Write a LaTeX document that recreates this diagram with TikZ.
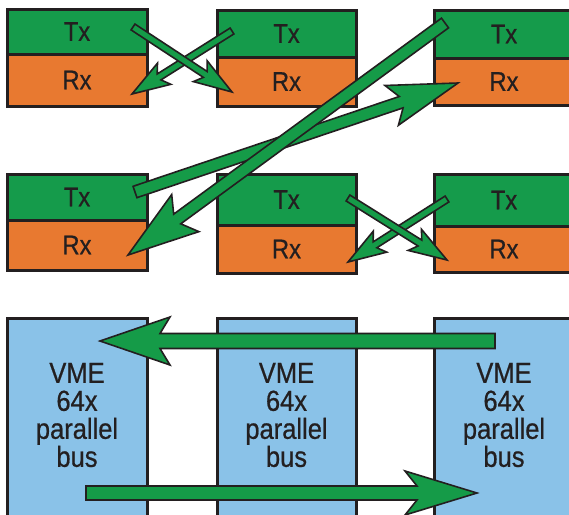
\documentclass[tikz,border=0pt]{standalone}
\usepackage{fontspec}
\setmainfont{Liberation Sans}[FakeStretch=0.88,FakeBold=0.6]
\usetikzlibrary{calc}
\definecolor{txgreen}{HTML}{159B4B}
\definecolor{rxorange}{HTML}{E87930}
\definecolor{vmeblue}{HTML}{8AC2E8}
\definecolor{outline}{HTML}{231F20}
\definecolor{arrowgreen}{HTML}{159B48}
% #1 start, #2 tip, #3 shaft half width, #4 tip-to-shaft-junction, #5 head length, #6 head half width
\newcommand{\fatarrow}[6]{%
  \filldraw[fatarrowstyle]
    ($(#1)!#3!90:(#2)$) --
    ($(#2)!#4!(#1)!#3!90:(#2)$) --
    ($(#2)!#5!(#1)!#6!90:(#2)$) --
    (#2) --
    ($(#2)!#5!(#1)!#6!-90:(#2)$) --
    ($(#2)!#4!(#1)!#3!-90:(#2)$) --
    ($(#1)!#3!-90:(#2)$) -- cycle;
}
\begin{document}
\begin{tikzpicture}[x=1pt,y=-1pt,
  unit/.style={draw=outline, line width=3pt, inner sep=0pt, outer sep=0pt,
    text=outline, font=\fontsize{27}{28}\selectfont},
  txbox/.style={unit, fill=txgreen},
  rxbox/.style={unit, fill=rxorange},
  vmebox/.style={unit, fill=vmeblue, minimum height=212pt},
  vmetext/.style={align=center, text=outline, inner sep=0pt,
    font=\fontsize{29}{28}\selectfont},
  fatarrowstyle/.style={fill=arrowgreen, draw=outline, line width=1.6pt, line join=miter}]
\useasboundingbox (0,0) rectangle (569,514);
\clip (0,0) rectangle (569,514);

% row 1
\node[txbox, minimum width=140pt, minimum height=45pt] (tx1) at (77,31.5) {Tx};
\node[rxbox, minimum width=140pt, minimum height=52pt] (rx1) at (77,80) {Rx};
\node[txbox, minimum width=139pt, minimum height=47pt] (tx2) at (286.5,33.5) {Tx};
\node[rxbox, minimum width=139pt, minimum height=49pt] (rx2) at (286.5,81.5) {Rx};
\node[txbox, minimum width=140pt, minimum height=48pt] (tx3) at (504,34) {Tx};
\node[rxbox, minimum width=140pt, minimum height=47pt] (rx3) at (504,81.5) {Rx};

% row 2
\node[txbox, minimum width=140pt, minimum height=46pt] (tx4) at (77,197) {Tx};
\node[rxbox, minimum width=140pt, minimum height=50pt] (rx4) at (77,245) {Rx};
\node[txbox, minimum width=139pt, minimum height=51pt] (tx5) at (286.5,199.5) {Tx};
\node[rxbox, minimum width=139pt, minimum height=48pt] (rx5) at (286.5,249) {Rx};
\node[txbox, minimum width=140pt, minimum height=52pt] (tx6) at (504,200) {Tx};
\node[rxbox, minimum width=140pt, minimum height=46pt] (rx6) at (504,249) {Rx};

% row 3
\node[vmebox, minimum width=140pt] (vme1) at (77,424) {};
\node[vmebox, minimum width=139pt] (vme2) at (286.5,424) {};
\node[vmebox, minimum width=140pt] (vme3) at (504,424) {};
\node[vmetext] (vt1) at ($(vme1.north)+(0,97)$) {VME\\64x\\parallel\\bus};
\node[vmetext] (vt2) at ($(vme2.north)+(0,97)$) {VME\\64x\\parallel\\bus};
\node[vmetext] (vt3) at ($(vme3.north)+(0,97)$) {VME\\64x\\parallel\\bus};

% arrow end points
\coordinate (aS) at ($(tx1.east)+(-14,-4.5)$);
\coordinate (aT) at ($(rx2.west)+(15,10.5)$);
\coordinate (bS) at ($(tx2.west)+(15,-2.5)$);
\coordinate (bT) at ($(rx1.east)+(-15,14)$);
\coordinate (cS) at ($(tx5.east)+(-8,-1.5)$);
\coordinate (cT) at ($(rx6.west)+(13,11)$);
\coordinate (dS) at ($(tx6.west)+(13,-1)$);
\coordinate (dT) at ($(rx5.east)+(-8,13)$);
\coordinate (eS) at ($(tx3.west)+(11,-11)$);
\coordinate (eT) at ($(rx4.east)+(-19,10)$);
\coordinate (fS) at ($(tx4.east)+(-12,-5)$);
\coordinate (fT) at ($(rx3.west)+(24,1.5)$);
\coordinate (gS) at ($(vme3.north)+(-9,23)$);
\coordinate (gT) at ($(vme1.north)+(23,23)$);
\coordinate (hS) at ($(vme1.north)+(9,175)$);
\coordinate (hT) at ($(vme3.north)+(-27,175)$);

% arrows
\fatarrow{bS}{bT}{3.5pt}{32pt}{38pt}{12.5pt}
\fatarrow{aS}{aT}{3.5pt}{32pt}{38pt}{12.5pt}
\fatarrow{dS}{dT}{3.5pt}{32pt}{38pt}{12.5pt}
\fatarrow{cS}{cT}{3.5pt}{32pt}{38pt}{12.5pt}
\fatarrow{fS}{fT}{6pt}{60pt}{70pt}{21pt}
\fatarrow{eS}{eT}{6pt}{61pt}{71pt}{23pt}
\fatarrow{gS}{gT}{7.5pt}{60pt}{70pt}{24pt}
\fatarrow{hS}{hT}{7pt}{60pt}{72pt}{22pt}
\end{tikzpicture}
\end{document}
